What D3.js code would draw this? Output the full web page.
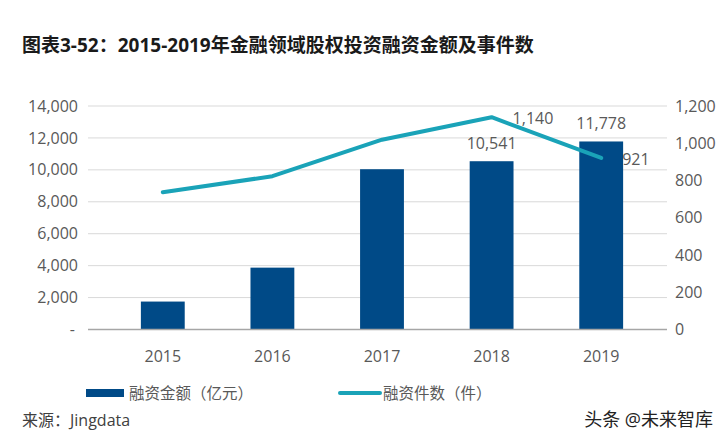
<!DOCTYPE html>
<html>
<head>
<meta charset="utf-8">
<script src="https://cdn.jsdelivr.net/npm/d3@7"></script>
<style>
  body { margin: 0; background: #fff; }
  text { font-family: "Open Sans", "Noto Sans CJK SC", sans-serif; }
</style>
</head>
<body>
<div id="chart"></div>
<script>
var categories = ['2015', '2016', '2017', '2018', '2019']
var amounts = [1750, 3875, 10040, 10541, 11778]      // 融资金额（亿元）
var counts = [737, 823, 1019, 1140, 921]             // 融资件数（件）
var labeledYears = ['2018', '2019']
var leftTicks = [0, 2000, 4000, 6000, 8000, 10000, 12000, 14000]
var rightTicks = [0, 200, 400, 600, 800, 1000, 1200]

var width = 726,
    height = 444,
    barColor = '#004a87',
    lineColor = '#1aa3b8',
    textColor = '#595959',
    fmt = d3.format(',')

var rows = categories.map(function(c, i) {
    return { year: c, amount: amounts[i], count: counts[i] }
})
var labeledRows = rows.filter(function(d) { return labeledYears.indexOf(d.year) >= 0 })

var svg = d3.select('#chart').append('svg')
    .attr('width', width)
    .attr('height', height)

var x = d3.scaleBand()
    .domain(categories)
    .range([108, 656])
    .paddingInner(0.6)
    .paddingOuter(0.3)

var yLeft = d3.scaleLinear()
    .domain([0, 14000])
    .range([329.5, 106])

var yRight = d3.scaleLinear()
    .domain([0, 1200])
    .range([329.5, 106])

function cx(d) { return x(d.year) + x.bandwidth() / 2 }

// title
svg.append('text')
    .attr('x', 22)
    .attr('y', 45)
    .attr('dy', '0.35em')
    .attr('font-size', 19)
    .attr('font-weight', 'bold')
    .attr('fill', '#1a1a1a')
    .text('图表3-52：2015-2019年金融领域股权投资融资金额及事件数')

// gridlines
svg.append('g').selectAll('line')
    .data(leftTicks.slice(1))
    .enter().append('line')
        .attr('x1', 88)
        .attr('x2', 667)
        .attr('y1', function(d) { return yLeft(d) })
        .attr('y2', function(d) { return yLeft(d) })
        .attr('stroke', '#d9d9d9')
        .attr('stroke-width', 1)

// left axis labels
svg.append('g').selectAll('text')
    .data(leftTicks)
    .enter().append('text')
        .attr('x', function(d) { return d === 0 ? 75 : 78 })
        .attr('y', function(d) { return yLeft(d) })
        .attr('dy', '0.35em')
        .attr('text-anchor', 'end')
        .attr('font-size', 16)
        .attr('fill', textColor)
        .text(function(d) { return d === 0 ? '-' : fmt(d) })

// right axis labels
svg.append('g').selectAll('text')
    .data(rightTicks)
    .enter().append('text')
        .attr('x', 675)
        .attr('y', function(d) { return yRight(d) })
        .attr('dy', '0.35em')
        .attr('font-size', 16)
        .attr('fill', textColor)
        .text(function(d) { return fmt(d) })

// bars
svg.append('g').selectAll('rect')
    .data(rows)
    .enter().append('rect')
        .attr('x', function(d) { return x(d.year) })
        .attr('y', function(d) { return yLeft(d.amount) })
        .attr('width', x.bandwidth())
        .attr('height', function(d) { return yLeft(0) - yLeft(d.amount) })
        .attr('fill', barColor)

// baseline
svg.append('line')
    .attr('x1', 88)
    .attr('x2', 667)
    .attr('y1', yLeft(0))
    .attr('y2', yLeft(0))
    .attr('stroke', '#a6a6a6')
    .attr('stroke-width', 1.5)

// line
var line = d3.line()
    .x(cx)
    .y(function(d) { return yRight(d.count) })

svg.append('path')
    .datum(rows)
    .attr('d', line)
    .attr('fill', 'none')
    .attr('stroke', lineColor)
    .attr('stroke-width', 4)
    .attr('stroke-linejoin', 'round')
    .attr('stroke-linecap', 'round')

// data labels
svg.append('g').selectAll('text')
    .data(labeledRows)
    .enter().append('text')
        .attr('x', cx)
        .attr('y', function(d) { return yLeft(d.amount) - 12 })
        .attr('text-anchor', 'middle')
        .attr('font-size', 16)
        .attr('fill', textColor)
        .text(function(d) { return fmt(d.amount) })

svg.append('g').selectAll('text')
    .data(labeledRows)
    .enter().append('text')
        .attr('x', function(d) { return cx(d) + 21 })
        .attr('y', function(d) { return yRight(d.count) + 7 })
        .attr('font-size', 16)
        .attr('fill', textColor)
        .text(function(d) { return fmt(d.count) })

// x labels
svg.append('g').selectAll('text')
    .data(categories)
    .enter().append('text')
        .attr('x', function(d) { return x(d) + x.bandwidth() / 2 })
        .attr('y', 356)
        .attr('dy', '0.35em')
        .attr('text-anchor', 'middle')
        .attr('font-size', 16)
        .attr('fill', textColor)
        .text(function(d) { return d })

// legend
var legend = svg.append('g')
legend.append('rect')
    .attr('x', 86)
    .attr('y', 389)
    .attr('width', 38)
    .attr('height', 8)
    .attr('fill', barColor)
legend.append('text')
    .attr('x', 129)
    .attr('y', 394)
    .attr('dy', '0.35em')
    .attr('font-size', 15.5)
    .attr('fill', textColor)
    .text('融资金额（亿元）')
legend.append('line')
    .attr('x1', 340)
    .attr('x2', 380)
    .attr('y1', 393)
    .attr('y2', 393)
    .attr('stroke', lineColor)
    .attr('stroke-width', 4)
    .attr('stroke-linecap', 'round')
legend.append('text')
    .attr('x', 383)
    .attr('y', 394)
    .attr('dy', '0.35em')
    .attr('font-size', 15.5)
    .attr('fill', textColor)
    .text('融资件数（件）')

// source + watermark
svg.append('text')
    .attr('x', 22)
    .attr('y', 420)
    .attr('dy', '0.35em')
    .attr('font-size', 16)
    .attr('fill', '#404040')
    .text('来源：Jingdata')

svg.append('text')
    .attr('x', 713)
    .attr('y', 420)
    .attr('dy', '0.35em')
    .attr('text-anchor', 'end')
    .attr('font-size', 18)
    .attr('fill', '#222')
    .attr('stroke', '#fff')
    .attr('stroke-width', 2)
    .attr('paint-order', 'stroke')
    .text('头条 @未来智库')
</script>
</body>
</html>
